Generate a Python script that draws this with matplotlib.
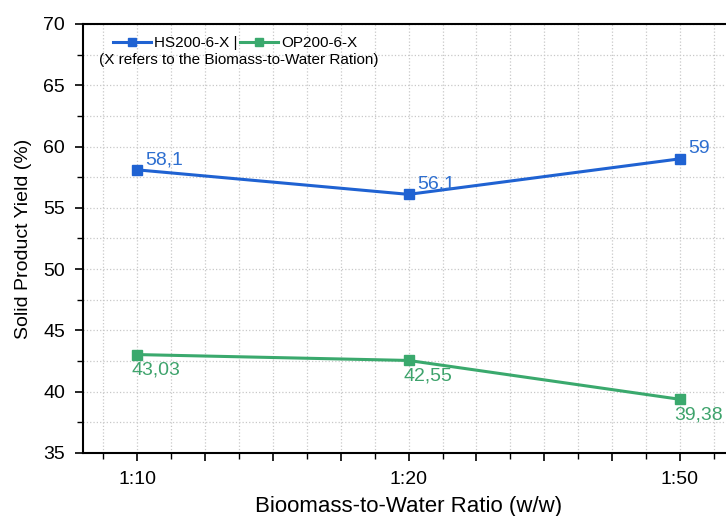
import matplotlib.pyplot as plt
from matplotlib.ticker import MultipleLocator, FuncFormatter
from matplotlib.lines import Line2D

plt.rcParams['font.family'] = ['Liberation Sans', 'DejaVu Sans']

# biomass-to-water ratios and solid yields
ratios = ["1:10", "1:20", "1:50"]
hs_yield = [58.1, 56.1, 59.0]
op_yield = [43.03, 42.55, 39.38]
hs_labels = ["58,1", "56,1", "59"]
op_labels = ["43,03", "42,55", "39,38"]

BLUE = '#1f62d2'
GREEN = '#3aa96d'

fig = plt.figure(figsize=(7.26, 5.16), dpi=100)
ax = fig.add_axes([0.1143, 0.1221, 0.897, 0.8314])

x = list(range(1, len(ratios) + 1))
ax.plot(x, hs_yield, color=BLUE, lw=2.2, marker='s', ms=7, zorder=3)
ax.plot(x, op_yield, color=GREEN, lw=2.2, marker='s', ms=7, zorder=3)

for xi, yi, lab in zip(x, hs_yield, hs_labels):
    ax.annotate(lab, (xi, yi), xytext=(6, 1), textcoords='offset points',
                ha='left', va='bottom', color='#2e6fd0', fontsize=14)
for xi, yi, lab in zip(x, op_yield, op_labels):
    ax.annotate(lab, (xi, yi), xytext=(-4, -5), textcoords='offset points',
                ha='left', va='top', color='#3ea36c', fontsize=14)

ax.set_xlim(0.8, 3.2)
ax.set_ylim(35, 70)
ax.xaxis.set_major_locator(MultipleLocator(0.25))
ax.xaxis.set_minor_locator(MultipleLocator(0.125))
ax.xaxis.set_major_formatter(FuncFormatter(
    lambda v, p: ratios[int(round(v)) - 1] if abs(v - round(v)) < 1e-6 and 1 <= round(v) <= 3 else ''))
ax.yaxis.set_major_locator(MultipleLocator(5))
ax.yaxis.set_minor_locator(MultipleLocator(2.5))

ax.tick_params(which='major', direction='out', length=6, width=1.2, labelsize=14, pad=7)
ax.tick_params(which='minor', direction='out', length=4, width=1.0)
ax.grid(which='both', color='#c8c8c8', linestyle=':', linewidth=0.9)
ax.set_axisbelow(True)

for side in ['left', 'bottom', 'top']:
    ax.spines[side].set_linewidth(1.5)
ax.spines['right'].set_visible(False)

ax.set_xlabel("Bioomass-to-Water Ratio (w/w)", fontsize=16, labelpad=6)
ax.set_ylabel("Solid Product Yield (%)", fontsize=14, labelpad=8)

handles = [Line2D([], [], color=BLUE, lw=2.2, marker='s', ms=6),
           Line2D([], [], color=GREEN, lw=2.2, marker='s', ms=6)]
ax.legend(handles, ["HS200-6-X |", "OP200-6-X"], ncol=2, frameon=False,
          loc='center left', bbox_to_anchor=(0.046, 0.956), fontsize=11,
          borderaxespad=0, borderpad=0,
          handlelength=2.5, handletextpad=0.2, columnspacing=0.15)
ax.text(0.025, 0.916, "(X refers to the Biomass-to-Water Ration)",
        transform=ax.transAxes, fontsize=11, ha='left', va='center')

fig.savefig('out.png', dpi=100)
